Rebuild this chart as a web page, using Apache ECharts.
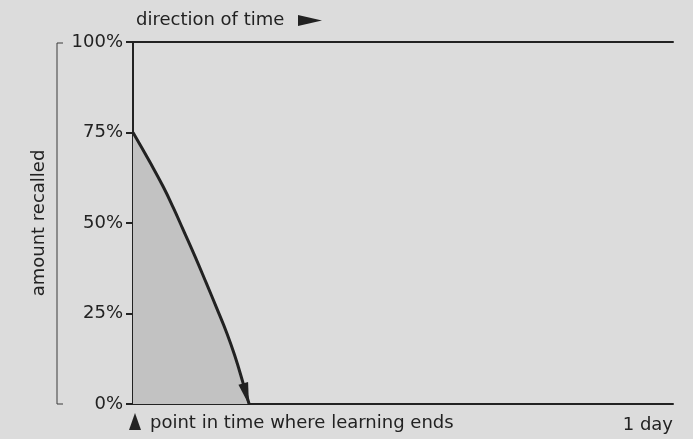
<!DOCTYPE html>
<html>
<head>
<meta charset="utf-8">
<script src="https://cdn.jsdelivr.net/npm/echarts@6/dist/echarts.min.js"></script>
<style>
  html, body { margin: 0; padding: 0; background: #dcdcdc; }
  #chart { width: 693px; height: 439px; }
</style>
</head>
<body>
<div id="chart"></div>
<script>
// time since learning ended (fraction of 1 day) and amount recalled (%)
var days = [0, 0.031, 0.056, 0.075, 0.093, 0.115, 0.136, 0.155, 0.174, 0.189, 0.204, 0.215];
var recalled = [75, 66.9, 60, 54.1, 48.1, 40.7, 33.3, 26.5, 19.5, 13.1, 5.7, 0];
var yTicks = [0, 25, 50, 75, 100];
var xLabels = ['1 day'];

var ink = '#222';
var font = 'DejaVu Sans';

var points = days.map(function (d, i) {
    var p = { value: [d, recalled[i]] };
    if (i === days.length - 1) {
        // arrow head at the end of the curve
        p.symbol = 'triangle';
        p.symbolSize = [10, 22];
        p.symbolRotate = 195;
        p.symbolOffset = [-3, -10];
        p.itemStyle = { color: ink, opacity: 1 };
    }
    return p;
});

var myChart = echarts.init(document.getElementById('chart'));
var option = {
    backgroundColor: '#dcdcdc',
    animation: false,
    textStyle: { fontFamily: font, color: ink },
    grid: { left: 133, right: 20, top: 42, bottom: 35, outerBoundsMode: 'none' },
    xAxis: [
        {
            type: 'value',
            min: 0,
            max: 1,
            axisLine: { show: true, lineStyle: { color: ink, width: 2 } },
            axisTick: { show: false },
            splitLine: { show: false },
            axisLabel: {
                customValues: [1],
                formatter: function () { return xLabels[0]; },
                align: 'right',
                margin: 12,
                fontSize: 18,
                color: ink,
                fontFamily: font
            }
        },
        {
            type: 'value',
            position: 'top',
            min: 0,
            max: 1,
            axisLine: { show: true, lineStyle: { color: ink, width: 2 } },
            axisTick: { show: false },
            axisLabel: { show: false },
            splitLine: { show: false }
        }
    ],
    yAxis: {
        type: 'value',
        min: 0,
        max: 100,
        interval: 25,
        name: 'amount recalled',
        nameLocation: 'middle',
        nameRotate: 90,
        nameGap: 85,
        nameTextStyle: { fontSize: 18, color: ink, fontFamily: font },
        axisLine: { show: true, lineStyle: { color: ink, width: 2 } },
        axisTick: { show: true, length: 7, lineStyle: { color: ink, width: 2 } },
        splitLine: { show: false },
        axisLabel: {
            customValues: yTicks,
            formatter: '{value}%',
            margin: 10,
            fontSize: 18,
            color: ink,
            fontFamily: font
        }
    },
    series: [
        {
            type: 'line',
            data: points,
            smooth: 0.5,
            showSymbol: true,
            symbol: 'none',
            lineStyle: { color: ink, width: 3 },
            areaStyle: { color: '#c2c2c2', opacity: 1 },
            z: 3
        }
    ],
    graphic: [
        // bracket beside the y axis name
        {
            type: 'polyline',
            shape: { points: [[63, 43], [57, 43], [57, 404], [63, 404]] },
            style: { stroke: '#3a3a3a', lineWidth: 1, fill: null }
        },
        {
            type: 'text',
            left: 136,
            top: 11,
            style: { text: 'direction of time', fontSize: 18, fontFamily: font, fill: ink }
        },
        {
            type: 'polygon',
            shape: { points: [[298, 15], [322, 20.5], [298, 26]] },
            style: { fill: ink }
        },
        {
            type: 'polygon',
            shape: { points: [[129, 430], [135, 413], [141, 430]] },
            style: { fill: ink }
        },
        {
            type: 'text',
            left: 150,
            top: 414,
            style: { text: 'point in time where learning ends', fontSize: 18, fontFamily: font, fill: ink }
        }
    ]
};

myChart.setOption(option);
</script>
</body>
</html>
